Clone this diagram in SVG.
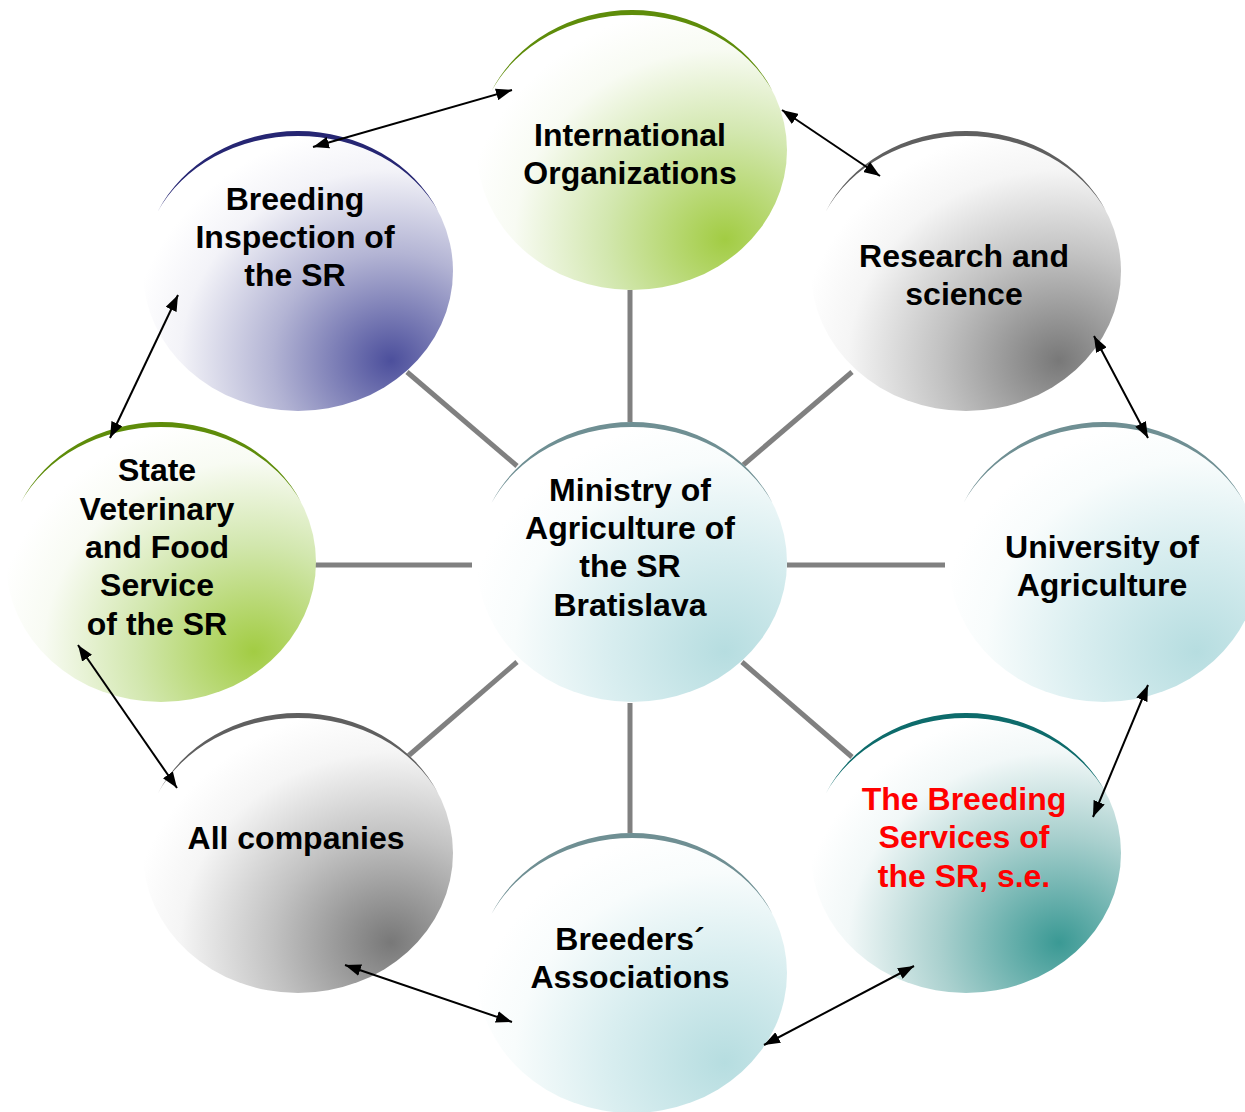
<svg xmlns="http://www.w3.org/2000/svg" width="1245" height="1112" viewBox="0 0 1245 1112">
<style>
.lbl{font-family:"Liberation Sans",Arial,Helvetica,sans-serif;font-weight:bold;font-size:32px;text-anchor:middle;fill:#000}
.red{fill:#ff0000}
.spoke{stroke:#808080;stroke-width:5;fill:none}
.arr{stroke:#000;stroke-width:2;fill:none;marker-start:url(#ah);marker-end:url(#ah)}
</style>
<defs>
<marker id="ah" viewBox="0 0 16 12" refX="16" refY="6" markerWidth="16" markerHeight="12" markerUnits="userSpaceOnUse" orient="auto-start-reverse">
<path d="M0,0 L16,6 L0,12 z" fill="#000"/>
</marker>
<path id="rim" d="M-140.5,-59 A155,140 0 0 1 140.5,-59 A155,131.6 0 0 0 -140.5,-59 Z"/>
<radialGradient id="gGreen" cx="0.8" cy="0.82" r="0.85" fx="0.8" fy="0.82">
<stop offset="0" stop-color="#a2cc43"/><stop offset="0.45" stop-color="#d2e7ae"/><stop offset="0.8" stop-color="#f8fbf3"/><stop offset="1" stop-color="#ffffff"/>
</radialGradient>
<radialGradient id="gBlue" cx="0.8" cy="0.82" r="0.85" fx="0.8" fy="0.82">
<stop offset="0" stop-color="#4c4f9c"/><stop offset="0.45" stop-color="#b3b4d4"/><stop offset="0.8" stop-color="#f3f3f8"/><stop offset="1" stop-color="#ffffff"/>
</radialGradient>
<radialGradient id="gGray" cx="0.8" cy="0.82" r="0.85" fx="0.8" fy="0.82">
<stop offset="0" stop-color="#787878"/><stop offset="0.45" stop-color="#c2c2c2"/><stop offset="0.8" stop-color="#f5f5f5"/><stop offset="1" stop-color="#ffffff"/>
</radialGradient>
<radialGradient id="gLteal" cx="0.8" cy="0.82" r="0.85" fx="0.8" fy="0.82">
<stop offset="0" stop-color="#b6dde0"/><stop offset="0.45" stop-color="#d9eef0"/><stop offset="0.8" stop-color="#f8fcfc"/><stop offset="1" stop-color="#ffffff"/>
</radialGradient>
<radialGradient id="gTeal" cx="0.8" cy="0.82" r="0.85" fx="0.8" fy="0.82">
<stop offset="0" stop-color="#3a9994"/><stop offset="0.45" stop-color="#a9d0ce"/><stop offset="0.8" stop-color="#f2f8f8"/><stop offset="1" stop-color="#ffffff"/>
</radialGradient>
</defs>

<g id="connectors-spokes">
<line class="spoke" x1="630" y1="422" x2="630" y2="290"/>
<line class="spoke" x1="630" y1="703" x2="630" y2="834"/>
<line class="spoke" x1="315" y1="565" x2="472" y2="565"/>
<line class="spoke" x1="787" y1="565" x2="945" y2="565"/>
<line class="spoke" x1="407" y1="372" x2="517" y2="466"/>
<line class="spoke" x1="852" y1="372" x2="742" y2="466"/>
<line class="spoke" x1="407" y1="757" x2="517" y2="662"/>
<line class="spoke" x1="852" y1="757" x2="742" y2="662"/>
</g>

<g id="node-international">
<ellipse cx="632" cy="150" rx="155" ry="140" fill="url(#gGreen)"/>
<use href="#rim" x="632" y="150" fill="#5e8c0a"/>
<text class="lbl" x="630" y="146">International</text>
<text class="lbl" x="630" y="184">Organizations</text>
</g>

<g id="node-breeding-inspection">
<ellipse cx="298" cy="271" rx="155" ry="140" fill="url(#gBlue)"/>
<use href="#rim" x="298" y="271" fill="#262673"/>
<text class="lbl" x="295" y="210">Breeding</text>
<text class="lbl" x="295" y="248">Inspection of</text>
<text class="lbl" x="295" y="286">the SR</text>
</g>

<g id="node-research">
<ellipse cx="966" cy="271" rx="155" ry="140" fill="url(#gGray)"/>
<use href="#rim" x="966" y="271" fill="#5f5f5f"/>
<text class="lbl" x="964" y="267">Research and</text>
<text class="lbl" x="964" y="305">science</text>
</g>

<g id="node-state-veterinary">
<ellipse cx="161" cy="562" rx="155" ry="140" fill="url(#gGreen)"/>
<use href="#rim" x="161" y="562" fill="#5e8c0a"/>
<text class="lbl" x="157" y="481">State</text>
<text class="lbl" x="157" y="520">Veterinary</text>
<text class="lbl" x="157" y="558">and Food</text>
<text class="lbl" x="157" y="596">Service</text>
<text class="lbl" x="157" y="635">of the SR</text>
</g>

<g id="node-ministry">
<ellipse cx="632" cy="562" rx="155" ry="140" fill="url(#gLteal)"/>
<use href="#rim" x="632" y="562" fill="#6f8f93"/>
<text class="lbl" x="630" y="501">Ministry of</text>
<text class="lbl" x="630" y="539">Agriculture of</text>
<text class="lbl" x="630" y="577">the SR</text>
<text class="lbl" x="630" y="616">Bratislava</text>
</g>

<g id="node-university">
<ellipse cx="1104" cy="562" rx="155" ry="140" fill="url(#gLteal)"/>
<use href="#rim" x="1104" y="562" fill="#6f8f93"/>
<text class="lbl" x="1102" y="558">University of</text>
<text class="lbl" x="1102" y="596">Agriculture</text>
</g>

<g id="node-all-companies">
<ellipse cx="298" cy="853" rx="155" ry="140" fill="url(#gGray)"/>
<use href="#rim" x="298" y="853" fill="#5f5f5f"/>
<text class="lbl" x="296" y="849">All companies</text>
</g>

<g id="node-breeding-services">
<ellipse cx="966" cy="853" rx="155" ry="140" fill="url(#gTeal)"/>
<use href="#rim" x="966" y="853" fill="#0d6b6b"/>
<text class="lbl red" x="964" y="810">The Breeding</text>
<text class="lbl red" x="964" y="848">Services of</text>
<text class="lbl red" x="964" y="887">the SR, s.e.</text>
</g>

<g id="node-breeders">
<ellipse cx="632" cy="973" rx="155" ry="140" fill="url(#gLteal)"/>
<use href="#rim" x="632" y="973" fill="#6f8f93"/>
<text class="lbl" x="630" y="950">Breeders´</text>
<text class="lbl" x="630" y="988">Associations</text>
</g>

<g id="connectors-arrows">
<line class="arr" x1="313" y1="147" x2="512" y2="90"/>
<line class="arr" x1="782" y1="110" x2="880" y2="176"/>
<line class="arr" x1="1094" y1="336" x2="1148" y2="438"/>
<line class="arr" x1="1148" y1="685" x2="1093" y2="817"/>
<line class="arr" x1="914" y1="966" x2="764" y2="1045"/>
<line class="arr" x1="512" y1="1022" x2="345" y2="965"/>
<line class="arr" x1="177" y1="788" x2="78" y2="645"/>
<line class="arr" x1="110" y1="438" x2="178" y2="295"/>
</g>
</svg>
